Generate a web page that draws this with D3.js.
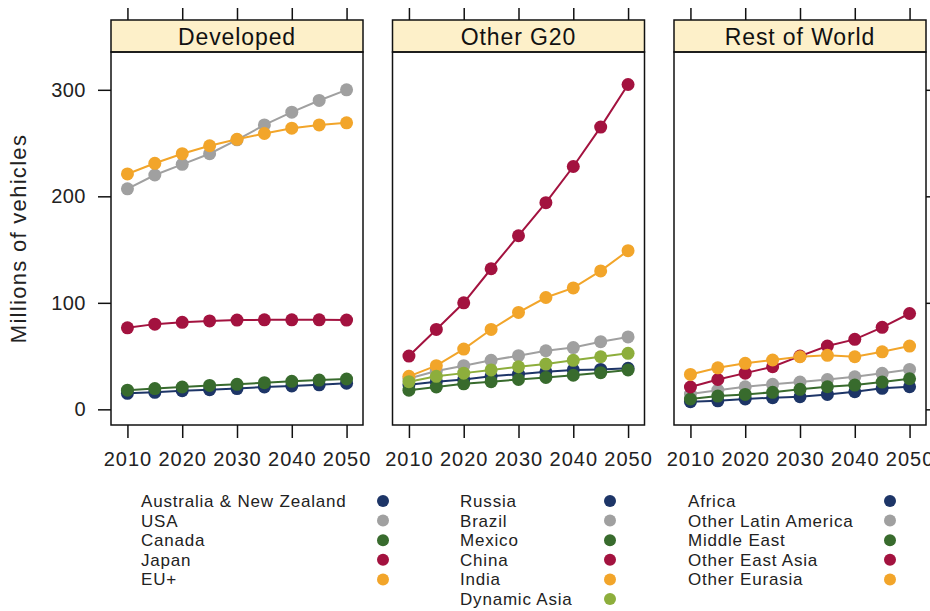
<!DOCTYPE html>
<html>
<head>
<meta charset="utf-8">
<script src="https://cdn.jsdelivr.net/npm/d3@7"></script>
<style>
  body { margin: 0; background: #fff; }
  svg { font-family: "Liberation Sans", Arial, sans-serif; }
</style>
</head>
<body>
<div id="chart"></div>
<script>
// Data
const years = [2010, 2015, 2020, 2025, 2030, 2035, 2040, 2045, 2050];
const yearTicks = [2010, 2020, 2030, 2040, 2050];
const valueTicks = [0, 100, 200, 300];
const panels = ["Developed", "Other G20", "Rest of World"];
const colors = ["#1d3567", "#a0a0a0", "#386b2d", "#a3123f", "#f2a52a", "#8dae3c"];

const developedNames = ["Australia & New Zealand", "USA", "Canada", "Japan", "EU+"];
const developedValues = [
    [15, 16, 17.5, 18.5, 19.5, 21, 22, 23, 24.5],
    [207, 220, 230, 240, 253, 267, 279, 290, 300],
    [18, 19.5, 21, 22.5, 23.5, 25, 26.3, 27.5, 28.5],
    [76.5, 80, 81.7, 83, 83.8, 84, 84, 84, 83.8],
    [221, 231, 240, 247.5, 253.5, 259, 264, 267, 269]
];

const g20Names = ["Russia", "Brazil", "Mexico", "China", "India", "Dynamic Asia"];
const g20Values = [
    [23, 26, 28, 31, 33, 35.3, 37, 37.5, 38.5],
    [29, 36, 41, 46, 50.4, 55, 58, 63.5, 68],
    [18, 21, 24, 26, 28, 30, 32, 34.4, 37],
    [50, 75, 100, 132, 163, 194, 228, 265, 305],
    [31, 41, 56.6, 75, 91, 105, 114, 130, 149],
    [26, 31, 34, 37, 40, 42.5, 46, 49.4, 52.6]
];

const rowNames = ["Africa", "Other Latin America", "Middle East", "Other East Asia", "Other Eurasia"];
const rowValues = [
    [7.2, 8, 9.7, 11, 11.8, 14, 16.5, 19.7, 21.2],
    [14.4, 18, 21.2, 23.5, 25.6, 28, 30.6, 33.8, 37.5],
    [9.7, 12.5, 14, 16, 18.8, 21.2, 22.8, 25.6, 28.7],
    [21, 28, 34, 40, 50, 59.4, 65.7, 77, 90],
    [32.8, 39, 43.2, 46.3, 49.4, 50.7, 49.4, 54, 59.4]
];

const panelData = [
    { names: developedNames, values: developedValues },
    { names: g20Names, values: g20Values },
    { names: rowNames, values: rowValues }
];

// Layout
const W = 930, H = 611;
const panelW = 252, gap = 29.5, left0 = 111;
const stripTop = 20, stripH = 32;
const plotTop = stripTop + stripH, plotBottom = 425;

const svg = d3.select("#chart").append("svg")
    .attr("width", W).attr("height", H);

const y = d3.scaleLinear().domain([-14.7, 335.5]).range([plotBottom, plotTop]);

const line = (x) => d3.line().x((d, i) => x(years[i])).y(d => y(d));

const styleLabels = (a, size, spacing) => a.selectAll("text")
    .style("font-size", size).style("letter-spacing", spacing)
    .attr("fill", "#222")
    .attr("font-family", "Liberation Sans, Arial, sans-serif");

panelData.forEach((p, pi) => {
    const x0 = left0 + pi * (panelW + gap);
    const x = d3.scaleLinear().domain([2007, 2053]).range([x0, x0 + panelW]);

    const g = svg.append("g");

    // strip
    g.append("rect")
     .attr("x", x0).attr("y", stripTop)
     .attr("width", panelW).attr("height", stripH)
     .attr("fill", "#fdf0c9").attr("stroke", "#111").attr("stroke-width", 1.5);
    g.append("text")
     .attr("x", x0 + panelW / 2).attr("y", 45)
     .attr("text-anchor", "middle")
     .style("font-size", "23px").style("letter-spacing", "0.9px").attr("fill", "#111")
     .text(panels[pi]);

    // top ticks
    g.append("g")
     .attr("transform", `translate(0,${stripTop})`)
     .call(d3.axisTop(x).tickValues(yearTicks).tickSize(12).tickFormat(""))
     .call(a => a.select(".domain").remove())
     .call(a => a.selectAll("line").attr("stroke", "#111").attr("stroke-width", 1.5));

    // bottom axis
    g.append("g")
     .attr("transform", `translate(0,${plotBottom})`)
     .call(d3.axisBottom(x).tickValues(yearTicks).tickSize(13).tickPadding(14).tickFormat(d3.format("d")))
     .call(a => a.select(".domain").remove())
     .call(a => a.selectAll("line").attr("stroke", "#111").attr("stroke-width", 1.5))
     .call(a => styleLabels(a, "20px", "1px"));

    // y ticks
    if (pi === 0) {
        g.append("g")
         .attr("transform", `translate(${x0},0)`)
         .call(d3.axisLeft(y).tickValues(valueTicks).tickSize(13).tickPadding(12))
         .call(a => a.select(".domain").remove())
         .call(a => a.selectAll("line").attr("stroke", "#111").attr("stroke-width", 1.5))
         .call(a => styleLabels(a, "20px", "0.5px"));
    }
    if (pi === 2) {
        g.append("g")
         .attr("transform", `translate(${x0 + panelW},0)`)
         .call(d3.axisRight(y).tickValues(valueTicks).tickSize(13).tickFormat(""))
         .call(a => a.select(".domain").remove())
         .call(a => a.selectAll("line").attr("stroke", "#111").attr("stroke-width", 1.5));
    }

    // series
    p.values.forEach((vals, si) => {
        g.append("path")
         .datum(vals)
         .attr("fill", "none")
         .attr("stroke", colors[si])
         .attr("stroke-width", 2)
         .attr("d", line(x));
        g.selectAll(null)
         .data(vals)
         .enter().append("circle")
         .attr("cx", (d, i) => x(years[i]))
         .attr("cy", d => y(d))
         .attr("r", 6.5)
         .attr("fill", colors[si]);
    });

    // panel border
    g.append("rect")
     .attr("x", x0).attr("y", plotTop)
     .attr("width", panelW).attr("height", plotBottom - plotTop)
     .attr("fill", "none").attr("stroke", "#111").attr("stroke-width", 1.5);
});

// y label
svg.append("text")
   .attr("transform", `translate(26,${(plotTop + plotBottom) / 2}) rotate(-90)`)
   .attr("text-anchor", "middle")
   .style("font-size", "22px").style("letter-spacing", "1.3px").attr("fill", "#222")
   .text("Millions of vehicles");

// legend
const legendCols = [
    { textX: 141, dotX: 383 },
    { textX: 460, dotX: 610 },
    { textX: 688, dotX: 890 }
];
const legendTop = 501, legendStep = 19.6;

panelData.forEach((p, pi) => {
    const col = legendCols[pi];
    const lg = svg.append("g");
    p.names.forEach((name, i) => {
        const cy = legendTop + i * legendStep;
        lg.append("text")
          .attr("x", col.textX).attr("y", cy + 6)
          .style("font-size", "17px").style("letter-spacing", "0.8px").attr("fill", "#222")
          .text(name);
        lg.append("circle")
          .attr("cx", col.dotX).attr("cy", cy)
          .attr("r", 6)
          .attr("fill", colors[i]);
    });
});
</script>
</body>
</html>
